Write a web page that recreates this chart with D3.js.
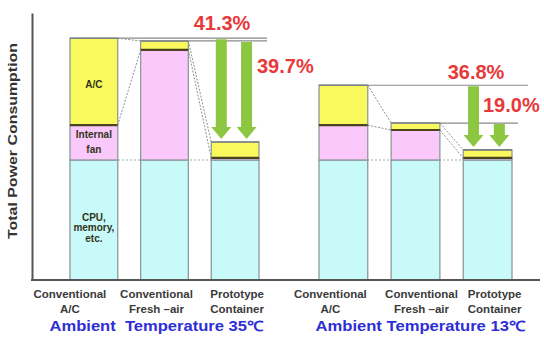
<!DOCTYPE html>
<html><head><meta charset="utf-8">
<script src="https://cdn.jsdelivr.net/npm/d3@7"></script>
<style>html,body{margin:0;padding:0;background:#fff}svg{display:block}</style>
</head><body>
<svg id="c" width="544" height="338"></svg>
<script>
// ---- data ----
const groups = ["Ambient  Temperature 35\u2103", "Ambient Temperature 13\u2103"];
const categories = ["Conventional\nA/C", "Conventional\nFresh \u2013air", "Prototype\nContainer"];
const cpu  = [100, 100, 100, 100, 100, 100];
const fan  = [29, 91.7, 1.7, 29, 25, 1.7];
const ac   = [72.5, 7.5, 13.3, 33.3, 5.8, 6.7];
const reductions = [["41.3%", "39.7%"], ["36.8%", "19.0%"]];
const segLabels = [["A/C"], ["Internal", "fan"], ["CPU,", "memory,", "etc."]];
const yTitle = "Total Power Consumption";

// ---- layout ----
const svg = d3.select("#c");
const FONT = "'Liberation Sans', Arial, sans-serif";
const baseY = 280, topY = 13, axisX = 32;
const y = d3.scaleLinear().domain([0, 222.5]).range([baseY, topY]);
const groupRanges = [[70, 259], [319, 512]];
const xs = groupRanges.map(r => d3.scaleBand().domain(d3.range(3)).range(r).paddingInner(0.324).paddingOuter(0));
const col = {ac: "#f9f95e", fan: "#fac8fa", cpu: "#c8fafa", edge: "#8c9a9a", dark: "#4b4320", green: "#8dc641", red: "#e8393a", blue: "#2e2ed6", text: "#3a3a3a"};
const labelDx = [[-24, -8, 2], [-13, 6, 7]];
const lineEnds = [[267, 267], [528, 518]];
const pctPos = [[[222, 30, "middle"], [257, 73, "start"]], [[476, 79, "middle"], [483, 112, "start"]]];

const totals = cpu.map((c, i) => c + fan[i] + ac[i]);

groups.forEach((g, gi) => {
  const x = xs[gi];
  const idx = d3.range(3).map(k => gi * 3 + k);
  const gg = svg.append("g");
  gg.append("line").attr("x1", x(0)).attr("x2", x(2) + x.bandwidth())
    .attr("y1", y(100)).attr("y2", y(100))
    .attr("stroke", "#9aa").attr("stroke-width", 1).attr("stroke-dasharray", "2,2");

  idx.forEach((i, k) => {
    const x0 = x(k), w = x.bandwidth();
    const yc = y(cpu[i]), yf = y(cpu[i] + fan[i]), ya = y(totals[i]);
    gg.append("rect").attr("x", x0).attr("y", yc).attr("width", w).attr("height", baseY - yc)
      .attr("fill", col.cpu).attr("stroke", col.edge).attr("stroke-width", 1.3);
    gg.append("rect").attr("x", x0).attr("y", yf).attr("width", w).attr("height", yc - yf)
      .attr("fill", col.fan).attr("stroke", col.edge).attr("stroke-width", 1.3);
    gg.append("rect").attr("x", x0).attr("y", ya).attr("width", w).attr("height", yf - ya)
      .attr("fill", col.ac).attr("stroke", col.edge).attr("stroke-width", 1.3);
    gg.append("line").attr("x1", x0).attr("x2", x0 + w).attr("y1", yf).attr("y2", yf)
      .attr("stroke", col.dark).attr("stroke-width", 2.2);
    gg.append("line").attr("x1", x0).attr("x2", x0 + w).attr("y1", ya).attr("y2", ya)
      .attr("stroke", "#7c8080").attr("stroke-width", 1.6);
  });

  [0, 1].forEach(k => {
    const a = idx[k], b = idx[k + 1];
    const xa = x(k) + x.bandwidth(), xb = x(k + 1);
    [[totals[a], totals[b]], [cpu[a] + fan[a], cpu[b] + fan[b]]].forEach(([va, vb]) => {
      gg.append("line").attr("x1", xa).attr("x2", xb).attr("y1", y(va)).attr("y2", y(vb))
        .attr("stroke", "#8a9090").attr("stroke-width", 1).attr("stroke-dasharray", "2,1.5");
    });
  });

  [0, 1].forEach(k => {
    const i = idx[k];
    gg.append("line").attr("x1", x(k) + x.bandwidth()).attr("x2", lineEnds[gi][k])
      .attr("y1", y(totals[i])).attr("y2", y(totals[i]))
      .attr("stroke", "#8a8a8a").attr("stroke-width", 1.2);
  });

  const p = idx[2];
  const tipY = y(totals[p]) - 3;
  [0.21, 0.74].forEach((f, k) => {
    const cx = x(2) + x.bandwidth() * f;
    const t = y(totals[idx[k]]) + 1;
    const sw = 5.5, hw = 10, hl = 12;
    const path = d3.path();
    path.moveTo(cx - sw, t); path.lineTo(cx + sw, t); path.lineTo(cx + sw, tipY - hl);
    path.lineTo(cx + hw, tipY - hl); path.lineTo(cx, tipY); path.lineTo(cx - hw, tipY - hl);
    path.lineTo(cx - sw, tipY - hl); path.closePath();
    gg.append("path").attr("d", path.toString()).attr("fill", col.green);
  });

  reductions[gi].forEach((txt, k) => {
    const [px, py, anc] = pctPos[gi][k];
    gg.append("text").attr("x", px).attr("y", py).attr("text-anchor", anc)
      .attr("font-family", FONT).attr("font-weight", "bold").attr("font-size", 20)
      .attr("fill", col.red).text(txt);
  });

  categories.forEach((c, k) => {
    const cx = x(k) + x.bandwidth() / 2 + labelDx[gi][k];
    const t = gg.append("text").attr("text-anchor", "middle").attr("font-family", FONT)
      .attr("font-weight", "bold").attr("font-size", 11.5).attr("fill", col.text);
    c.split("\n").forEach((ln, j) => {
      t.append("tspan").attr("x", cx).attr("y", 298 + j * 15).text(ln);
    });
  });

  const gcx = (groupRanges[gi][0] + groupRanges[gi][1]) / 2 + (gi === 0 ? -8 : 5);
  gg.append("text").attr("x", gcx).attr("y", 331).attr("text-anchor", "middle")
    .attr("font-family", FONT).attr("font-weight", "bold").attr("font-size", 14)
    .attr("fill", col.blue).attr("textLength", gi === 0 ? 214 : 210).attr("lengthAdjust", "spacingAndGlyphs")
    .style("white-space", "pre").text(g);
});

const x0s = xs[0], bc = x0s(0) + x0s.bandwidth() / 2;
const segY = [[(y(totals[0]) + y(cpu[0] + fan[0])) / 2 + 6], [y(cpu[0] + fan[0]) + 13, y(cpu[0] + fan[0]) + 28], [221, 231, 242]];
segLabels.forEach((lines, s) => {
  lines.forEach((ln, j) => {
    svg.append("text").attr("x", bc).attr("y", segY[s][j]).attr("text-anchor", "middle")
      .attr("font-family", FONT).attr("font-weight", "bold").attr("font-size", 10)
      .attr("fill", "#333318").text(ln);
  });
});

const yAxis = d3.axisLeft(y).tickValues([]).tickSizeOuter(0);
svg.append("g").attr("transform", `translate(${axisX},0)`).call(yAxis)
  .select(".domain").attr("stroke", "#555").attr("stroke-width", 2);
svg.append("line").attr("x1", axisX - 1).attr("x2", 540).attr("y1", baseY).attr("y2", baseY)
  .attr("stroke", "#555").attr("stroke-width", 2);

svg.append("text").attr("transform", `translate(17,141) rotate(-90)`).attr("text-anchor", "middle")
  .attr("font-family", FONT).attr("font-weight", "bold").attr("font-size", 13.5).attr("fill", "#333")
  .attr("textLength", 196).attr("lengthAdjust", "spacingAndGlyphs").text(yTitle);
</script>
</body></html>
